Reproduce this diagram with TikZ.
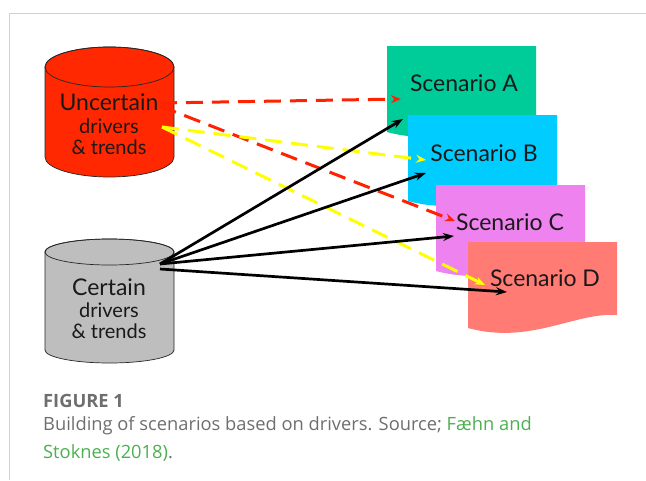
\documentclass[tikz,border=0pt]{standalone}
\usepackage{fontspec}
\setmainfont{Lato}
\newfontfamily\capfont{Open Sans}
\usetikzlibrary{arrows.meta}
\definecolor{uncred}{HTML}{FF2800}
\definecolor{cergray}{HTML}{BEBEBE}
\definecolor{scnA}{HTML}{00CC99}
\definecolor{scnB}{HTML}{00CCFF}
\definecolor{scnC}{HTML}{EE82EE}
\definecolor{scnD}{HTML}{FF7B73}
\definecolor{dashred}{HTML}{FF2200}
\definecolor{dashyel}{HTML}{FFFF00}
\definecolor{capgray}{HTML}{6E6E6E}
\definecolor{capgreen}{HTML}{4CAF50}
\definecolor{framegray}{HTML}{D0D0D0}

\begin{document}
\begin{tikzpicture}[x=1pt,y=-1pt,every node/.style={inner sep=0pt,text=black!90},
	drum/.style={draw=black!85,line width=0.7pt},
	big/.style={font=\fontsize{23}{26}\selectfont},
	small/.style={font=\fontsize{20}{22}\selectfont},
	scn/.style={font=\fontsize{23}{26}\selectfont},
	capt/.style={anchor=west,text=capgray,font=\capfont\fontsize{18.3}{20}\selectfont},
	udash/.style={line width=3pt,dash pattern=on 17pt off 9pt,-{Stealth[length=10pt,width=8pt]}},
	sure/.style={line width=2.7pt,-{Stealth[length=11pt,width=8pt]}}]

\useasboundingbox (0,0) rectangle (646,480);
\draw[framegray,line width=1pt] (9,480)--(9,13)--(646,13);

% drums
\draw[drum,fill=uncred] (45,67)--(45,157) arc[start angle=180,end angle=0,x radius=64.5,y radius=20]
	--(174,67) arc[start angle=0,end angle=-180,x radius=64.5,y radius=20]--cycle;
\draw[drum] (109.5,67) ellipse[x radius=64.5,y radius=20];
\draw[drum,fill=cergray] (45,252)--(45,350) arc[start angle=180,end angle=0,x radius=64.5,y radius=13]
	--(174,252) arc[start angle=0,end angle=-180,x radius=64.5,y radius=13]--cycle;
\draw[drum] (109.5,252) ellipse[x radius=64.5,y radius=13];

% scenario sheets
\foreach \l/\t/\c in {387/46/scnA,408/115/scnB,436/185/scnC,468/242/scnD}
	\fill[\c] (\l,\t)--(\l+149,\t)--(\l+149,\t+73) .. controls (\l+107,\t+70) and (\l+62,\t+103) .. (\l,\t+86)--cycle;

\node[big] (uncT) at (109,102) {Uncertain};
\node[small] (uncD) at (109,126) {drivers};
\node[small] (uncE) at (109,147) {\& trends};
\node[big] (cerT) at (109,287) {Certain};
\node[small] (cerD) at (109,310) {drivers};
\node[small] (cerE) at (109,331) {\& trends};

\node[scn] (scA) at (464,83) {Scenario A};
\node[scn] (scB) at (484,153) {Scenario B};
\node[scn] (scC) at (510,222) {Scenario C};
\node[scn] (scD) at (545,278) {Scenario D};

\coordinate (u1) at (160,103);
\coordinate (u2) at (160,106);
\coordinate (u3) at (162,127);
\coordinate (c1) at (160,264);
\coordinate (c2) at (160,269);
\coordinate (inA1) at (401,99);
\coordinate (inA2) at (403,119);
\coordinate (inB1) at (426,160);
\coordinate (inB2) at (426,173);
\coordinate (inC1) at (455,221);
\coordinate (inC2) at (454,236);
\coordinate (inD1) at (485,285);
\coordinate (inD2) at (507,292);

\draw[udash,dashred] (u1)--(inA1);
\draw[udash,dashred] (u2)--(inC1);
\draw[udash,dashyel] (u3)--(inB1);
\draw[udash,dashyel] (u3)--(inD1);
\foreach \y in {A,B,C}
	\draw[sure] (c1)--(in\y2);
\draw[sure] (c2)--(inD2);

\node[capt,font=\capfont\bfseries\fontsize{18.3}{20}\selectfont] (fig) at (43,401) {FIGURE 1};
\node[capt] (cap1) at (43,426) {Building of scenarios based on drivers. Source; \textcolor{capgreen}{Fæhn and}};
\node[capt] (cap2) at (43,453) {\textcolor{capgreen}{Stoknes (2018)}.};
\end{tikzpicture}
\end{document}
